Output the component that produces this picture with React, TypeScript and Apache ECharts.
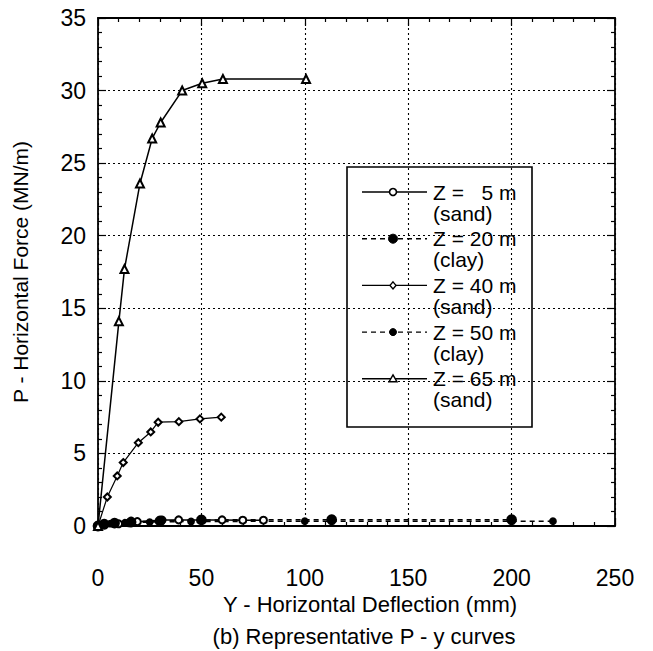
import React, { useEffect, useRef } from "react";
import * as echarts from "echarts";

const FONT = '"Liberation Sans", Arial, Helvetica, sans-serif';

// Data: [deflection (mm), force (MN/m)]
const z5Sand: [number, number][] = [
  [0, 0], [10, 0.15], [15, 0.22], [19, 0.3], [31, 0.41], [39, 0.42], [60, 0.42], [70, 0.4], [80, 0.4],
];
const z20Clay: [number, number][] = [
  [0, 0], [3, 0.12], [8, 0.2], [16, 0.27], [30, 0.35], [50, 0.42], [113, 0.43], [200, 0.43],
];
const z40Sand: [number, number][] = [
  [0, 0], [4.5, 2.0], [9.3, 3.45], [12.2, 4.37], [19.5, 5.74], [25.5, 6.48], [29.1, 7.15], [39.1, 7.19], [49.3, 7.38], [59.6, 7.5],
];
const z50Clay: [number, number][] = [
  [0, 0], [2, 0.1], [6, 0.16], [13, 0.22], [25, 0.27], [45, 0.31], [100, 0.33], [220, 0.33],
];
const z65Sand: [number, number][] = [
  [0, 0], [10.1, 14.1], [12.8, 17.7], [20.3, 23.6], [26.2, 26.7], [30.3, 27.8], [40.7, 30.0], [50.4, 30.5], [60.4, 30.8], [100.6, 30.8],
];

const seriesNames = ["Z =   5 m", "Z = 20 m", "Z = 40 m", "Z = 50 m", "Z = 65 m"];
const soilTypes = ["(sand)", "(clay)", "(sand)", "(clay)", "(sand)"];

const xTitle = "Y - Horizontal Deflection (mm)";
const yTitle = "P - Horizontal Force (MN/m)";
const caption = "(b) Representative P - y curves";

export default function App() {
  const ref = useRef<HTMLDivElement>(null);

  useEffect(() => {
    document.body.style.margin = "0";
    if (!ref.current) return;
    const chart = echarts.init(ref.current, undefined, { renderer: "svg" });

    const axisLine = { show: true, onZero: false, lineStyle: { color: "#000", width: 1.8 } };
    const tickStyle = { color: "#000", width: 1.2 };
    const gridStyle = { color: "#000", type: [2, 3] as number[], width: 1.1 };

    const xBase = {
      type: "value" as const,
      min: 0,
      max: 250,
      interval: 50,
      axisLine,
      axisTick: { show: true, inside: true, length: 8, lineStyle: tickStyle },
      minorTick: { show: true, splitNumber: 5, length: 4, lineStyle: tickStyle },
    };
    const yBase = {
      type: "value" as const,
      min: 0,
      max: 35,
      interval: 5,
      axisLine,
      axisTick: { show: true, inside: true, length: 8, lineStyle: tickStyle },
      minorTick: { show: true, splitNumber: 5, length: 4, lineStyle: tickStyle },
    };

    const lineSeries = (
      name: string,
      data: [number, number][],
      symbol: string,
      symbolSize: number,
      dashed: boolean,
      width = 1.5
    ) => ({
      type: "line",
      name,
      data,
      symbol,
      symbolSize,
      showAllSymbol: true,
      xAxisIndex: 0,
      yAxisIndex: 0,
      lineStyle: { color: "#000", width, type: dashed ? [5, 4] : "solid" },
      itemStyle: { color: "#000", borderColor: "#000", borderWidth: 1.8 },
      emphasis: { disabled: true },
    });

    // Legend drawn with graphics (two-line labels)
    const lgX = 347, lgY = 167, lgW = 185, lgH = 260;
    const rowPitch = 46.7;
    const legendChildren: any[] = [
      {
        type: "rect",
        shape: { x: lgX, y: lgY, width: lgW, height: lgH },
        style: { fill: "#fff", stroke: "#000", lineWidth: 1.6 },
      },
    ];
    const kinds = ["openCircle", "filledCircle", "diamond", "smallFilled", "triangle"];
    for (let i = 0; i < 5; i++) {
      const cy = lgY + 25 + i * rowPitch;
      const dashed = i === 1 || i === 3;
      legendChildren.push({
        type: "line",
        shape: { x1: lgX + 15, y1: cy, x2: lgX + 80, y2: cy },
        style: { stroke: "#000", lineWidth: i === 2 ? 1.1 : 1.4, lineDash: dashed ? [5, 4] : null },
      });
      const mx = lgX + 46;
      const k = kinds[i];
      if (k === "openCircle") {
        legendChildren.push({ type: "circle", shape: { cx: mx, cy, r: 3.5 }, style: { fill: "#fff", stroke: "#000", lineWidth: 1.6 } });
      } else if (k === "filledCircle") {
        legendChildren.push({ type: "circle", shape: { cx: mx, cy, r: 4.5 }, style: { fill: "#000", stroke: "#000" } });
      } else if (k === "smallFilled") {
        legendChildren.push({ type: "circle", shape: { cx: mx, cy, r: 3.5 }, style: { fill: "#000", stroke: "#000" } });
      } else if (k === "diamond") {
        legendChildren.push({
          type: "polygon",
          shape: { points: [[mx, cy - 3.5], [mx + 3, cy], [mx, cy + 3.5], [mx - 3, cy]] },
          style: { fill: "#fff", stroke: "#000", lineWidth: 1.4 },
        });
      } else {
        legendChildren.push({
          type: "polygon",
          shape: { points: [[mx, cy - 4], [mx + 4, cy + 3], [mx - 4, cy + 3]] },
          style: { fill: "#fff", stroke: "#000", lineWidth: 1.4 },
        });
      }
      legendChildren.push({
        type: "text",
        x: lgX + 86,
        y: cy,
        style: { text: seriesNames[i], font: `21px ${FONT}`, fill: "#000", verticalAlign: "middle", align: "left" },
      });
      legendChildren.push({
        type: "text",
        x: lgX + 86,
        y: cy + 21,
        style: { text: soilTypes[i], font: `21px ${FONT}`, fill: "#000", verticalAlign: "middle", align: "left" },
      });
    }

    chart.setOption({
      animation: false,
      backgroundColor: "#fff",
      textStyle: { fontFamily: FONT },
      grid: { left: 98, top: 18, width: 517, height: 508 },
      xAxis: [
        {
          ...xBase,
          position: "bottom",
          splitLine: { show: true, lineStyle: gridStyle },
          axisLabel: { color: "#000", fontSize: 23, margin: 40, fontFamily: FONT },
        },
        {
          ...xBase,
          position: "top",
          splitLine: { show: false },
          axisLabel: { show: false },
        },
      ],
      yAxis: [
        {
          ...yBase,
          position: "left",
          splitLine: { show: true, lineStyle: gridStyle },
          axisLabel: { color: "#000", fontSize: 23, margin: 12, fontFamily: FONT },
          name: yTitle,
          nameLocation: "middle",
          nameGap: 67,
          nameTextStyle: { color: "#000", fontSize: 21, fontFamily: FONT },
        },
        {
          ...yBase,
          position: "right",
          splitLine: { show: false },
          axisLabel: { show: false },
        },
      ],
      series: [
        lineSeries(seriesNames[0], z5Sand, "emptyCircle", 7, false),
        lineSeries(seriesNames[1], z20Clay, "circle", 9, true),
        lineSeries(seriesNames[2], z40Sand, "emptyDiamond", 7, false, 1.2),
        lineSeries(seriesNames[3], z50Clay, "circle", 6, true),
        lineSeries(seriesNames[4], z65Sand, "emptyTriangle", 8, false),
      ],
      graphic: [
        { type: "group", children: legendChildren },
        {
          type: "text",
          x: 370,
          y: 604,
          style: { text: xTitle, font: `22px ${FONT}`, fill: "#000", align: "center", verticalAlign: "middle" },
        },
        {
          type: "text",
          x: 364,
          y: 636,
          style: { text: caption, font: `22px ${FONT}`, fill: "#000", align: "center", verticalAlign: "middle" },
        },
      ],
    });

    return () => chart.dispose();
  }, []);

  return <div ref={ref} style={{ width: 653, height: 651 }} />;
}
